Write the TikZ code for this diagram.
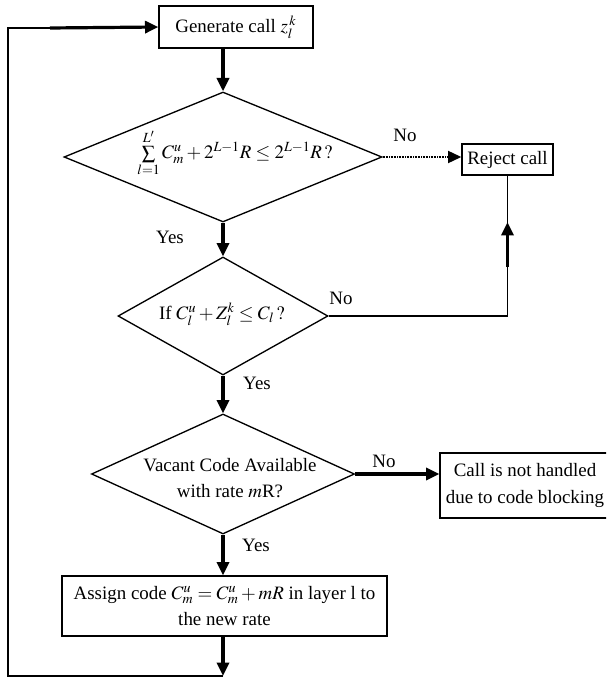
\documentclass[tikz,border=0pt]{standalone}
\usepackage{mathptmx}
\usepackage{fontspec}
\setmainfont{Liberation Serif}
\usetikzlibrary{shapes.geometric,arrows.meta}
\begin{document}
\begin{tikzpicture}[x=0.75pt,y=-0.75pt,
  every node/.style={font=\fontsize{14.2}{19.8}\selectfont},
  box/.style={draw,line width=1pt,inner sep=0pt,align=center},
  dia/.style={draw,diamond,line width=1pt,inner sep=0pt},
  lab/.style={inner sep=0pt},
  thickarrow/.style={line width=2.4pt,-{Triangle[length=10pt,width=9pt]}},
  dotarrow/.style={line width=1.6pt,dash pattern=on 0.7pt off 0.5pt,-{Triangle[length=10pt,width=9pt]}},
  thinline/.style={line width=1pt},
]
\useasboundingbox (0,0) rectangle (606,677);
\clip (0,0) rectangle (606,677);

\node[box,minimum width=115.5pt,minimum height=31.5pt] (gen) at (236,27) {Generate call $z_l^{\,k}$};
\node[box,minimum width=68.25pt,minimum height=23.25pt] (rej) at (507.5,159.5) {Reject call};
\node[dia,minimum width=238.5pt,minimum height=97.5pt] (d1) at (223,157) {};
\node[lab] (t1) at (235,153) {$\sum\limits_{l=1}^{L'} C_m^u + 2^{L-1}R \le 2^{L-1}R\,?$};
\node[dia,minimum width=157.5pt,minimum height=88.5pt] (d2) at (223,316) {};
\node[lab] (t2) at (222,314) {If $C_l^u + Z_l^k \le C_l\,?$};
\node[dia,minimum width=197.25pt,minimum height=90pt] (d3) at (223,474) {};
\node[lab,align=center] (t3) at (230,478) {Vacant Code Available\\with rate $m$R?};
\node[box,minimum width=127.5pt,minimum height=48.75pt] (blk) at (525,485.5) {Call is not handled\\due to code blocking};
\node[box,minimum width=243.75pt,minimum height=45pt] (asg) at (224.5,606) {Assign code $C_m^u = C_m^u + mR$ in layer l to\\the new rate};

\node[lab] (no1) at (405,135) {No};
\node[lab] (yes1) at (170,237) {Yes};
\node[lab] (no2) at (341,298) {No};
\node[lab] (yes2) at (257,383) {Yes};
\node[lab] (no3) at (384,461) {No};
\node[lab] (yes3) at (256,545) {Yes};

\coordinate (loopB) at (8,676);
\coordinate (loopT) at (8,28);
\coordinate (thickS) at (50,28);
\coordinate (bot) at (223,676);
\coordinate (rc) at (rej.south |- d2.east);
\coordinate (upS) at (507.5,267);
\coordinate (upE) at (507.5,222);

\draw[thickarrow] (gen.south -| d1.north) -- (d1.north);
\draw[thickarrow] (d1.south) -- (d2.north);
\draw[thickarrow] (d2.south) -- (d3.north);
\draw[thickarrow] (d3.south) -- (d3.south |- asg.north);
\draw[thickarrow] (d3.east) -- (d3.east -| blk.west);
\draw[dotarrow] (d1.east) -- (d1.east -| rej.west);
\draw[thinline] (d2.east) -- (rc) -- (rej.south);
\draw[thickarrow] (upS) -- (upE);
\draw[thickarrow] (asg.south -| bot) -- (bot);
\draw[thinline] (bot) -- (loopB) -- (loopT) -- (thickS);
\draw[thickarrow] (thickS) -- (gen.west);
\end{tikzpicture}
\end{document}
